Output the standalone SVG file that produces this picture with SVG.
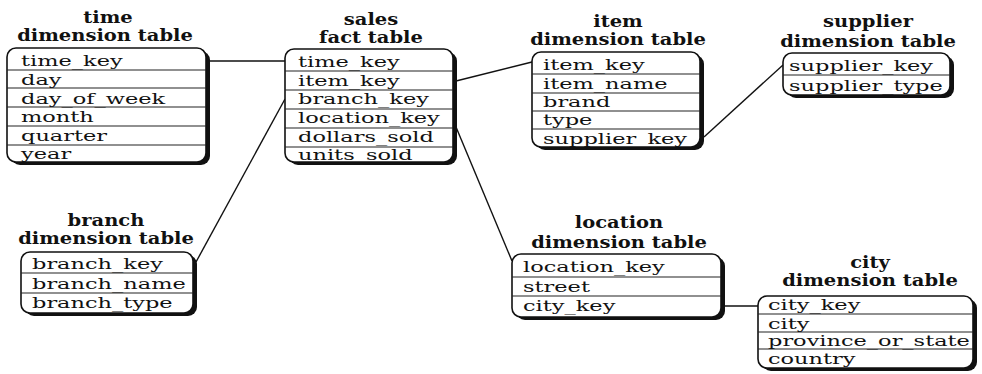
<svg xmlns="http://www.w3.org/2000/svg" width="982" height="374" viewBox="0 0 982 374">
<style>
.bg{fill:#fff}
.sh{fill:#111}
.box{fill:#fff;stroke:#111;stroke-width:1.6}
.sep{stroke:#222;stroke-width:1.1}
.t{font-family:"DejaVu Serif","Liberation Serif",serif;font-size:16px;fill:#111;font-weight:bold;text-anchor:middle}
.f{font-family:"DejaVu Serif","Liberation Serif",serif;font-size:15.5px;fill:#111}
.con{stroke:#111;stroke-width:1.4;fill:none}
</style>
<rect class="bg" x="0" y="0" width="982" height="374"/>
<g id="connectors">
<line class="con" x1="209" y1="61" x2="285" y2="61"/>
<line class="con" x1="196" y1="262" x2="285" y2="99"/>
<line class="con" x1="456" y1="81" x2="532" y2="62"/>
<line class="con" x1="704" y1="137" x2="783" y2="65"/>
<line class="con" x1="456" y1="127" x2="512" y2="261"/>
<line class="con" x1="724" y1="306" x2="758" y2="306"/>
</g>
<g id="time">
<text class="t" transform="translate(108,23) scale(1.22,1)">time</text>
<text class="t" transform="translate(105,41) scale(1.22,1)">dimension table</text>
<rect class="sh" x="11" y="51" width="199" height="114" rx="9"/>
<rect class="box" x="7" y="48" width="199" height="114" rx="9"/>
<line class="sep" x1="7" y1="70" x2="206" y2="70"/>
<line class="sep" x1="7" y1="88" x2="206" y2="88"/>
<line class="sep" x1="7" y1="107" x2="206" y2="107"/>
<line class="sep" x1="7" y1="126" x2="206" y2="126"/>
<line class="sep" x1="7" y1="145" x2="206" y2="145"/>
<text class="f" transform="translate(21,66) scale(1.45,1)">time_key</text>
<text class="f" transform="translate(21,85) scale(1.45,1)">day</text>
<text class="f" transform="translate(21,104) scale(1.45,1)">day_of_week</text>
<text class="f" transform="translate(21,122) scale(1.45,1)">month</text>
<text class="f" transform="translate(21,141) scale(1.45,1)">quarter</text>
<text class="f" transform="translate(21,159) scale(1.45,1)">year</text>
</g>
<g id="sales">
<text class="t" transform="translate(371,25) scale(1.22,1)">sales</text>
<text class="t" transform="translate(371,43) scale(1.22,1)">fact table</text>
<rect class="sh" x="289" y="52" width="168" height="113" rx="9"/>
<rect class="box" x="285" y="49" width="168" height="113" rx="9"/>
<line class="sep" x1="285" y1="71" x2="453" y2="71"/>
<line class="sep" x1="285" y1="90" x2="453" y2="90"/>
<line class="sep" x1="285" y1="109" x2="453" y2="109"/>
<line class="sep" x1="285" y1="128" x2="453" y2="128"/>
<line class="sep" x1="285" y1="147" x2="453" y2="147"/>
<text class="f" transform="translate(298,67) scale(1.45,1)">time_key</text>
<text class="f" transform="translate(298,86) scale(1.45,1)">item_key</text>
<text class="f" transform="translate(298,104) scale(1.45,1)">branch_key</text>
<text class="f" transform="translate(298,123) scale(1.45,1)">location_key</text>
<text class="f" transform="translate(298,142) scale(1.45,1)">dollars_sold</text>
<text class="f" transform="translate(298,160) scale(1.45,1)">units_sold</text>
</g>
<g id="item">
<text class="t" transform="translate(618,27) scale(1.22,1)">item</text>
<text class="t" transform="translate(618,45) scale(1.22,1)">dimension table</text>
<rect class="sh" x="536" y="55" width="168" height="95" rx="9"/>
<rect class="box" x="532" y="52" width="168" height="95" rx="9"/>
<line class="sep" x1="532" y1="74" x2="700" y2="74"/>
<line class="sep" x1="532" y1="93" x2="700" y2="93"/>
<line class="sep" x1="532" y1="111" x2="700" y2="111"/>
<line class="sep" x1="532" y1="129" x2="700" y2="129"/>
<text class="f" transform="translate(543,70) scale(1.45,1)">item_key</text>
<text class="f" transform="translate(543,89) scale(1.45,1)">item_name</text>
<text class="f" transform="translate(543,107) scale(1.45,1)">brand</text>
<text class="f" transform="translate(543,125) scale(1.45,1)">type</text>
<text class="f" transform="translate(543,144) scale(1.45,1)">supplier_key</text>
</g>
<g id="supplier">
<text class="t" transform="translate(868,27) scale(1.22,1)">supplier</text>
<text class="t" transform="translate(868,47) scale(1.22,1)">dimension table</text>
<rect class="sh" x="787" y="56" width="167" height="42" rx="9"/>
<rect class="box" x="783" y="53" width="167" height="42" rx="9"/>
<line class="sep" x1="783" y1="75" x2="950" y2="75"/>
<text class="f" transform="translate(789,71) scale(1.45,1)">supplier_key</text>
<text class="f" transform="translate(789,91) scale(1.45,1)">supplier_type</text>
</g>
<g id="branch">
<text class="t" transform="translate(106,226) scale(1.22,1)">branch</text>
<text class="t" transform="translate(106,244) scale(1.22,1)">dimension table</text>
<rect class="sh" x="25" y="255" width="172" height="61" rx="9"/>
<rect class="box" x="21" y="252" width="172" height="61" rx="9"/>
<line class="sep" x1="21" y1="273" x2="193" y2="273"/>
<line class="sep" x1="21" y1="293" x2="193" y2="293"/>
<text class="f" transform="translate(32,269) scale(1.45,1)">branch_key</text>
<text class="f" transform="translate(32,289) scale(1.45,1)">branch_name</text>
<text class="f" transform="translate(32,308) scale(1.45,1)">branch_type</text>
</g>
<g id="location">
<text class="t" transform="translate(619,228) scale(1.22,1)">location</text>
<text class="t" transform="translate(619,248) scale(1.22,1)">dimension table</text>
<rect class="sh" x="516" y="257" width="209" height="63" rx="9"/>
<rect class="box" x="512" y="254" width="209" height="63" rx="9"/>
<line class="sep" x1="512" y1="277" x2="721" y2="277"/>
<line class="sep" x1="512" y1="296" x2="721" y2="296"/>
<text class="f" transform="translate(523,272) scale(1.45,1)">location_key</text>
<text class="f" transform="translate(523,292) scale(1.45,1)">street</text>
<text class="f" transform="translate(523,311) scale(1.45,1)">city_key</text>
</g>
<g id="city">
<text class="t" transform="translate(870,268) scale(1.22,1)">city</text>
<text class="t" transform="translate(870,286) scale(1.22,1)">dimension table</text>
<rect class="sh" x="762" y="299" width="215" height="72" rx="9"/>
<rect class="box" x="758" y="296" width="215" height="72" rx="9"/>
<line class="sep" x1="758" y1="314" x2="973" y2="314"/>
<line class="sep" x1="758" y1="332" x2="973" y2="332"/>
<line class="sep" x1="758" y1="349" x2="973" y2="349"/>
<text class="f" transform="translate(768,310) scale(1.45,1)">city_key</text>
<text class="f" transform="translate(768,329) scale(1.45,1)">city</text>
<text class="f" transform="translate(768,346) scale(1.45,1)">province_or_state</text>
<text class="f" transform="translate(768,364) scale(1.45,1)">country</text>
</g>
</svg>
